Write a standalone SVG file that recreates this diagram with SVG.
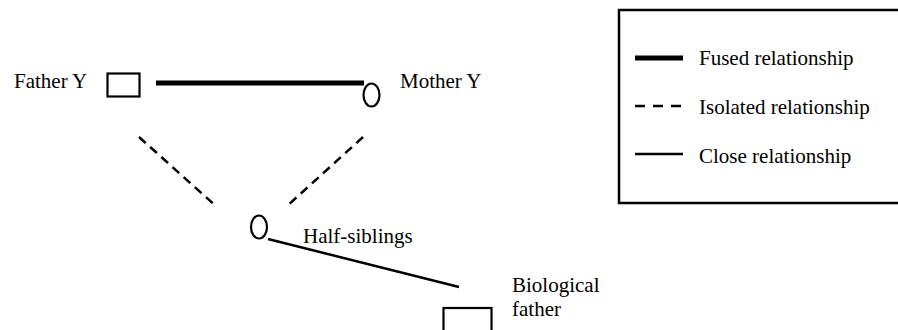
<svg xmlns="http://www.w3.org/2000/svg" width="898" height="330" viewBox="0 0 898 330">
<style>
text{font-family:"Liberation Serif","Times New Roman",serif;font-size:21px;fill:#000}
.shape{fill:none;stroke:#000;stroke-width:2.2}
.fused{stroke:#000;stroke-width:5;fill:none}
.iso{stroke:#000;stroke-width:2.5;stroke-dasharray:9 6;fill:none}
.close{stroke:#000;stroke-width:2.5;fill:none}
</style>
<rect width="898" height="330" fill="#fff"/>
<g id="connectors">
<line class="fused" x1="156" y1="83" x2="364" y2="83"/>
<line class="iso" x1="139" y1="137" x2="217" y2="207"/>
<line class="iso" x1="363" y1="137" x2="286" y2="207"/>
<line class="close" x1="268" y1="239" x2="459" y2="287"/>
</g>
<g id="father-y">
<rect class="shape" x="107.5" y="73.5" width="32" height="23"/>
<text x="14" y="88">Father Y</text>
</g>
<g id="mother-y">
<ellipse class="shape" cx="371.5" cy="95" rx="8" ry="11.5"/>
<text x="400" y="88">Mother Y</text>
</g>
<g id="half-siblings">
<ellipse class="shape" cx="259" cy="227" rx="8" ry="11.5"/>
<text x="303" y="243">Half-siblings</text>
</g>
<g id="biological-father">
<rect class="shape" x="443.5" y="308" width="48" height="30"/>
<text x="512" y="292">Biological</text>
<text x="512" y="316">father</text>
</g>
<g id="legend">
<rect x="619" y="10" width="290" height="193" fill="none" stroke="#000" stroke-width="2.5"/>
<line x1="635" y1="58" x2="683" y2="58" stroke="#000" stroke-width="5"/>
<text x="699" y="65">Fused relationship</text>
<line x1="635" y1="106" x2="683" y2="106" stroke="#000" stroke-width="2.5" stroke-dasharray="10 8"/>
<text x="699" y="114">Isolated relationship</text>
<line x1="635" y1="154" x2="683" y2="154" stroke="#000" stroke-width="2.5"/>
<text x="699" y="163">Close relationship</text>
</g>
</svg>
